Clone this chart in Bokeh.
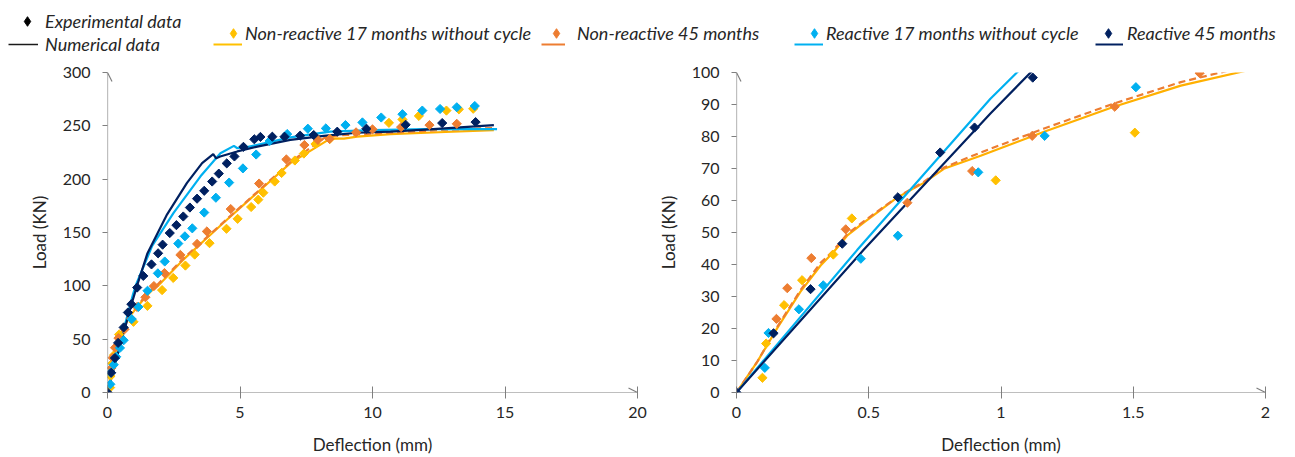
import numpy as np
from bokeh.plotting import figure
from bokeh.layouts import column, row
from bokeh.models import (Legend, LegendItem, Range1d, Arrow, OpenHead, Label, FixedTicker)
from bokeh.embed import file_html
from bokeh.resources import INLINE

# ---------------- data ----------------
# Experimental data (deflection mm, load kN)
nr17_exp_x = [0.098, 0.112, 0.18, 0.248, 0.366, 0.436, 0.98, 1.506, 2.06, 2.48, 2.94, 3.29, 3.85, 4.49,
              4.91, 5.42, 5.69, 5.88, 6.31, 6.57, 7.07, 7.41, 7.85, 8.39, 10.62, 11.13, 11.75, 12.79, 13.26, 13.8]
nr17_exp_y = [4.6, 15.3, 27.3, 35.1, 43.1, 54.4, 66.3, 81.2, 96.0, 107.4, 119.0, 129.3, 140.0, 153.5,
              162.8, 173.9, 180.8, 187.3, 197.8, 205.8, 217.5, 224.0, 233.0, 237.7, 252.8, 256.0, 259.3, 264.3, 265.5, 266.0]

nr45_exp_x = [0.151, 0.192, 0.283, 0.413, 0.646, 0.891, 1.118, 1.43, 1.751, 2.15, 2.75, 3.38, 3.75, 4.65,
              5.72, 6.75, 7.43, 7.94, 8.38, 9.38, 10.0, 11.08, 12.15, 13.18]
nr45_exp_y = [23.0, 32.6, 42.0, 51.0, 59.3, 69.2, 80.2, 89.3, 99.8, 112.0, 129.0, 139.3, 151.0, 172.0,
              195.9, 218.5, 232.0, 236.8, 237.7, 243.9, 246.7, 248.8, 250.7, 251.9]

r17_exp_x = [0.107, 0.121, 0.236, 0.328, 0.47, 0.61, 0.914, 1.165, 1.51, 1.90, 2.16, 2.67, 2.92, 3.20,
             3.65, 4.09, 4.59, 5.11, 5.61, 6.12, 6.78, 7.56, 8.24, 8.98, 9.62, 10.33, 11.13, 11.88,
             12.55, 13.18, 13.86]
r17_exp_y = [7.7, 18.6, 26.0, 33.5, 41.8, 49.0, 68.8, 80.2, 95.4, 111.7, 122.8, 139.6, 146.4, 153.9,
             168.7, 182.6, 196.8, 210.1, 223.1, 235.8, 242.3, 247.3, 247.6, 250.7, 253.2, 257.8, 260.9, 264.3,
             265.8, 267.4, 268.6]

r45_exp_x = [0.0, 0.14, 0.28, 0.40, 0.61, 0.77, 0.90, 1.12, 1.35, 1.66, 1.91, 2.08, 2.35, 2.60, 2.86,
             3.11, 3.38, 3.65, 3.95, 4.20, 4.50, 4.79, 5.13, 5.54, 5.77, 6.22, 6.68, 7.27, 7.78, 8.67,
             9.77, 11.25, 12.63, 13.89]
r45_exp_y = [0.0, 18.5, 32.3, 46.5, 61.0, 75.0, 82.8, 98.4, 109.3, 120.1, 130.5, 138.6, 149.5, 156.9, 165.0,
             173.4, 181.7, 189.1, 197.8, 205.2, 214.8, 221.3, 230.3, 237.4, 239.6, 239.8, 239.8, 240.8, 241.4, 244.5,
             247.3, 251.0, 252.6, 253.5]

# Numerical data
nr17_num_x = [0, 0.08, 0.154, 0.242, 0.318, 0.368, 0.418, 0.481, 0.607, 0.708, 0.784, 0.923, 1.163, 1.427,
              1.68, 1.918, 2.88, 4.39, 5.65, 6.9, 8.42, 8.92, 9.42, 10.68, 12.5, 14.58]
nr17_num_y = [0, 9.8, 20.1, 31.5, 39.7, 44.0, 49.0, 53.1, 60.9, 65.5, 69.9, 74.0, 81.5, 89.3,
              95.9, 100.4, 125.0, 159.4, 187.3, 215.0, 238.3, 238.0, 239.8, 242.3, 244.0, 246.0]

nr45_num_x = [0, 0.08, 0.154, 0.242, 0.318, 0.368, 0.418, 0.481, 0.607, 0.708, 0.784, 0.923, 1.163, 1.427,
              1.68, 1.88, 2.88, 4.39, 5.65, 6.9, 8.2, 8.7, 9.42, 10.68, 12.5, 14.58]
nr45_num_y = [0, 9.8, 20.5, 32.0, 40.5, 44.5, 49.5, 53.5, 61.0, 65.8, 70.3, 75.0, 82.5, 90.3,
              97.0, 101.0, 126.0, 160.0, 188.0, 216.0, 239.0, 241.0, 242.0, 243.5, 246.0, 248.0]

r17_num_x = [0, 0.456, 0.96, 1.064, 1.69, 2.5, 3.51, 4.26, 4.77, 4.9, 5.27, 6.9, 8.4, 10.0, 12.0, 14.7]
r17_num_y = [0, 44.5, 91.8, 100.3, 137.7, 168.7, 202.7, 224.3, 231.2, 229.0, 230.0, 239.2, 244.5, 246.0, 247.0, 247.0]

r45_num_x = [0, 0.48, 0.96, 1.112, 1.5, 2.25, 3.0, 3.57, 3.99, 4.1, 4.25, 4.9, 5.65, 6.9, 8.16, 9.42,
             10.68, 12.0, 13.3, 14.58]
r45_num_y = [0, 44.5, 87.2, 100.0, 130.0, 167.0, 196.5, 215.0, 223.4, 219.5, 221.3, 226.0, 230.5, 236.8, 240.5, 243.5,
             244.5, 246.5, 248.5, 250.7]

series_names = ["Non-reactive 17 months without cycle", "Non-reactive 45 months",
                "Reactive 17 months without cycle", "Reactive 45 months"]

a_xticks = [0, 5, 10, 15, 20]
a_yticks = [0, 50, 100, 150, 200, 250, 300]
b_xticks = [0, 0.5, 1, 1.5, 2]
b_xtick_labels = ["0", "0.5", "1", "1.5", "2"]
b_yticks = [0, 10, 20, 30, 40, 50, 60, 70, 80, 90, 100]

# ---------------- styles ----------------
YEL = "#FFC000"
ORA = "#ED7D31"
LBL = "#00B0F0"
NAV = "#002060"
AXC = "#7F7F7F"
TXT = "#262626"
FONT = "Lato"
LEG_H = 56

exp_sets = [(nr17_exp_x, nr17_exp_y, YEL), (nr45_exp_x, nr45_exp_y, ORA),
            (r17_exp_x, r17_exp_y, LBL), (r45_exp_x, r45_exp_y, NAV)]
num_sets = [(nr17_num_x, nr17_num_y, "#FFB000", "solid"), (nr45_num_x, nr45_num_y, ORA, "7 4"),
            (r17_num_x, r17_num_y, LBL, "solid"), (r45_num_x, r45_num_y, NAV, "solid")]


def make_panel(width, xmax, ymax, xticks, yticks, xlabels, border_left, border_right, tag, tag_x, tag_y):
    p = figure(width=width, height=457 - LEG_H, output_backend="svg", toolbar_location=None,
               x_range=Range1d(0, xmax), y_range=Range1d(0, ymax),
               min_border_left=border_left, min_border_right=border_right,
               min_border_top=72 - LEG_H, min_border_bottom=62)
    p.outline_line_color = None
    p.grid.visible = False
    for xs, ys, c, dash in num_sets:
        p.line(xs, ys, line_color=c, line_width=2.2, line_dash=dash)
    for xs, ys, c in exp_sets:
        p.scatter(xs, ys, marker="square", angle=np.pi / 4, size=6.5, fill_color=c, line_color=c)

    for ax in (p.xaxis[0], p.yaxis[0]):
        ax.axis_line_alpha = 0
        ax.major_tick_line_color = AXC
        ax.minor_tick_line_color = None
        ax.major_label_text_font = FONT
        ax.major_label_text_font_size = "16px"
        ax.major_label_text_color = TXT
        ax.axis_label_text_font = FONT
        ax.axis_label_text_font_size = "17px"
        ax.axis_label_text_font_style = "normal"
        ax.axis_label_text_color = TXT
    p.xaxis.ticker = FixedTicker(ticks=xticks)
    p.yaxis.ticker = FixedTicker(ticks=yticks)
    if xlabels is not None:
        p.xaxis.major_label_overrides = {t: l for t, l in zip(xticks, xlabels)}
    p.xaxis.major_tick_in = 6
    p.xaxis.major_tick_out = 6
    p.yaxis.major_tick_in = 0
    p.yaxis.major_tick_out = 5
    p.xaxis.major_label_standoff = 8
    p.yaxis.major_label_standoff = 12
    p.xaxis.axis_label = "Deflection (mm)"
    p.yaxis.axis_label = "Load (KN)"
    p.xaxis.axis_label_standoff = 13
    p.yaxis.axis_label_standoff = 10

    p.add_layout(Arrow(x_start=0, y_start=0, x_end=xmax, y_end=0, line_color=AXC, line_width=1.2,
                       end=OpenHead(size=9, line_color=AXC, line_width=1.2)))
    p.add_layout(Arrow(x_start=0, y_start=0, x_end=0, y_end=ymax, line_color=AXC, line_width=1.2,
                       end=OpenHead(size=9, line_color=AXC, line_width=1.2)))
    p.add_layout(Label(x=tag_x, y=tag_y, text=tag, text_font=FONT, text_font_size="22px",
                       text_color=TXT, text_baseline="middle", text_align="left"))
    return p


pa = make_panel(650, 20, 300, a_xticks, a_yticks, None, 107, 13, "a)", -1.2, -15)
pb = make_panel(645, 2, 100, b_xticks, b_yticks, b_xtick_labels, 86, 30, "b)", -0.125, -4.8)

# ---------------- legend strip ----------------
lg = figure(width=1295, height=LEG_H, output_backend="svg", toolbar_location=None,
            x_range=Range1d(0, 1), y_range=Range1d(0, 1),
            x_axis_location=None, y_axis_location=None,
            min_border=0, min_border_left=0, min_border_right=0, min_border_top=0, min_border_bottom=0)
lg.outline_line_color = None
lg.grid.visible = False

NAN = [np.nan]


def add_legend(label, renderer, x, center_y, glyph_w, glyph_h, standoff):
    L = Legend(items=[LegendItem(label=label, renderers=[renderer])],
               location=(x, LEG_H - center_y - glyph_h / 2), orientation="horizontal")
    L.background_fill_alpha = 0
    L.border_line_alpha = 0
    L.padding = 0
    L.margin = 0
    L.label_text_font = FONT
    L.label_text_font_style = "italic"
    L.label_text_font_size = "18px"
    L.label_text_color = TXT
    L.label_standoff = standoff
    L.glyph_width = glyph_w
    L.glyph_height = glyph_h
    L.label_height = glyph_h
    lg.add_layout(L, "center")


def diamond_r(c):
    return lg.scatter(NAN, NAN, marker="diamond", size=10, fill_color=c, line_color=c)


def line_r(c, w):
    return lg.line(NAN, NAN, line_color=c, line_width=w)


# left block: experimental / numerical
add_legend("Experimental data", diamond_r("black"), 15, 21, 24, 24, 6)
add_legend("Numerical data", line_r("#1a1a1a", 1.5), 8, 44, 30, 22, 7)

# series: (line x0, line x1, diamond centre, text start)
legend_geom = [(213, 242, 233, 243), (541, 565, 556, 577), (794, 823, 814, 826), (1095, 1123, 1108, 1127)]
for name, (xs, ys, c), (x0, x1, dc, tx) in zip(series_names, exp_sets, legend_geom):
    add_legend(" ", line_r(c, 2), x0, 44, x1 - x0, 22, 0)
    add_legend(name, diamond_r(c), dc - 12, 33, 24, 24, max(tx - (dc + 12), 0))

layout = column(lg, row(pa, pb, spacing=0), spacing=0)
open("out.html", "w").write(file_html(layout, INLINE))
